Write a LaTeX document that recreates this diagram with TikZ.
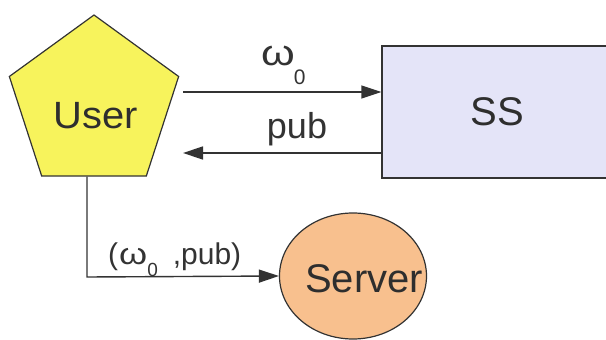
\documentclass[tikz,border=0pt]{standalone}
\usepackage{fontspec}
\setmainfont{Liberation Sans}
\usetikzlibrary{shapes.geometric,arrows.meta}
\definecolor{userfill}{HTML}{F7F35C}
\definecolor{ssfill}{HTML}{E4E4F8}
\definecolor{serverfill}{HTML}{F8C08E}
\definecolor{ink}{HTML}{333333}
\newcommand{\wide}[1]{\scalebox{1.2}[1]{#1}}
\tikzset{
  shapeline/.style={draw=ink, line width=1.2pt},
  bigtext/.style={font=\fontsize{40}{40}\selectfont, text=ink!90!black},
  msg/.style={font=\fontsize{36}{36}\selectfont, text=ink, inner sep=0pt},
  smallmsg/.style={font=\fontsize{30}{30}\selectfont, text=ink, inner sep=0pt},
  arr/.style={draw=ink, line width=1.4pt, -{Triangle[length=20pt,width=13pt]}},
}
\begin{document}
\begin{tikzpicture}[x=1pt,y=-1pt]
  \useasboundingbox (0,0) rectangle (606,340);
  \clip (0,0) rectangle (606,340);

  % parties
  \node[shapeline, fill=userfill, regular polygon, regular polygon sides=5,
        minimum size=178pt, inner sep=0pt] (User) at (94,104) {};
  \node[bigtext, font=\fontsize{38}{38}\selectfont, anchor=base, inner sep=0pt]
        (usertext) at (96,128) {\scalebox{1.05}[1]{User}};
  \node[shapeline, bigtext, fill=ssfill, rectangle, minimum width=230pt,
        minimum height=132pt, inner sep=0pt] (SS) at (497,112) {SS};
  \node[shapeline, fill=serverfill, ellipse, minimum width=147pt,
        minimum height=126pt, inner sep=0pt] (Server) at (353,276) {};
  \node[bigtext, anchor=base, inner sep=0pt] (servertext) at (364,292) {Server};

  % message routing points
  \coordinate (toss) at (183,92);
  \coordinate (fromss) at (183,153);
  \coordinate (corner) at (87,277);

  \draw[arr] (toss) -- (toss -| SS.west);
  \draw[arr] (fromss -| SS.west) -- (fromss);
  \draw[arr] (User.south -| corner) -- (corner) -- (Server.west);

  % message labels
  \node[msg, anchor=base west] (lab1) at (261,65)
        {\wide{ω}\hspace{-1pt}\raisebox{-19pt}{\fontsize{21}{21}\selectfont 0}};
  \node[msg, anchor=base] (lab2) at (297,138) {pub};
  \node[smallmsg, anchor=base west] (lab3) at (108,264)
        {(\hspace{1pt}\wide{ω}\hspace{0pt}\raisebox{-12pt}{\fontsize{19}{19}\selectfont 0}\hspace{15pt},pub)};
\end{tikzpicture}
\end{document}
